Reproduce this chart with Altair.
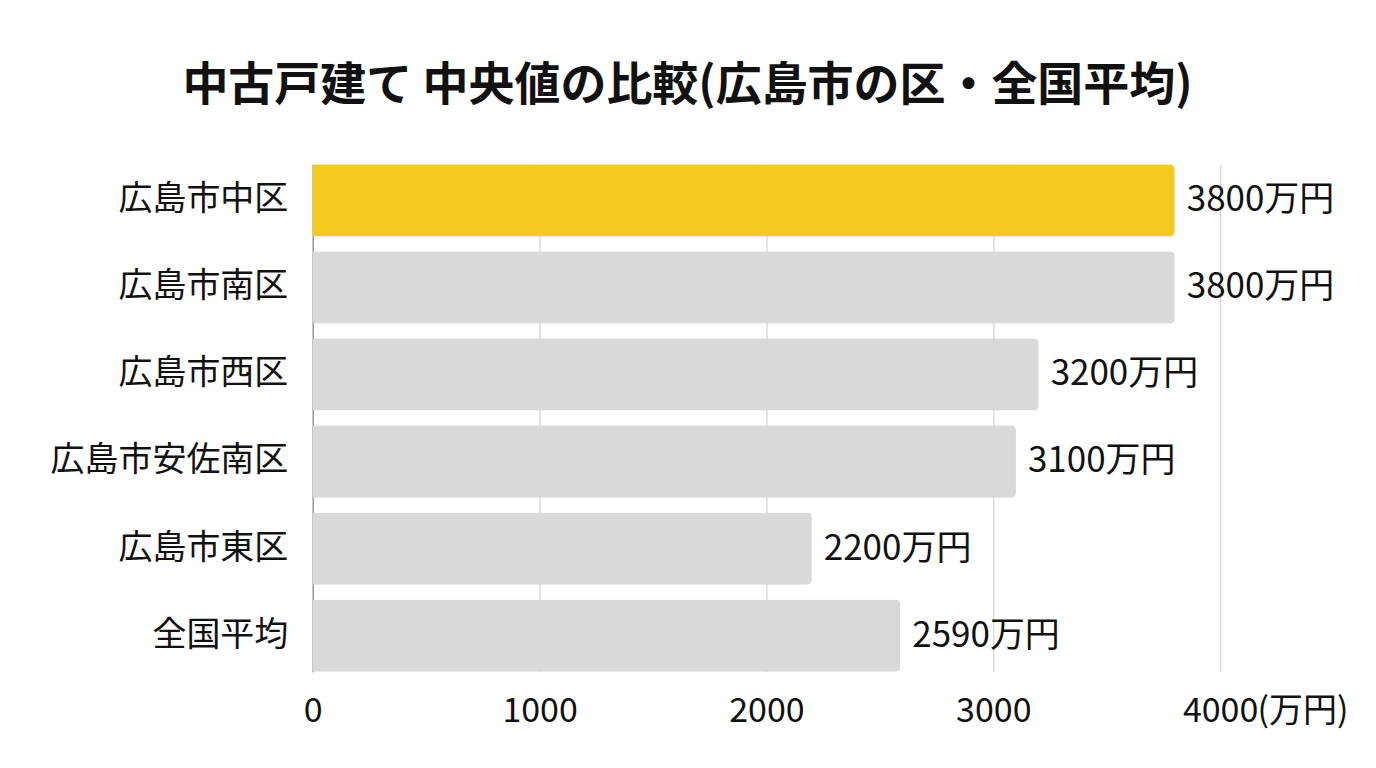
import altair as alt
import pandas as pd

# 中古戸建て 中央値（万円）
areas = ["広島市中区", "広島市南区", "広島市西区", "広島市安佐南区", "広島市東区", "全国平均"]
prices = [3800, 3800, 3200, 3100, 2200, 2590]
highlight = "広島市中区"
x_ticks = [0, 1000, 2000, 3000, 4000]

df = pd.DataFrame({"area": areas, "price": prices})
df["label"] = df["price"].astype(str) + "万円"

FONT = "Noto Sans CJK JP"
INK = "#111111"

base = alt.Chart(df).encode(
    y=alt.Y(
        "area:N",
        sort=areas,
        title=None,
        scale=alt.Scale(paddingInner=0.17, paddingOuter=0),
        axis=alt.Axis(
            labelFont=FONT, labelFontSize=34, labelColor=INK, labelPadding=25,
            labelLimit=0, ticks=False, tickSize=0, grid=False,
            domainColor="#9a9a9a", domainWidth=1.5,
            minExtent=305, maxExtent=305,
        ),
    )
)

bars = base.mark_bar(cornerRadiusEnd=5).encode(
    x=alt.X(
        "price:Q",
        scale=alt.Scale(domain=[0, 4000]),
        axis=alt.Axis(
            values=x_ticks, format="d",
            labelFont=FONT, labelFontSize=34, labelColor=INK, labelPadding=23,
            labelFlush=False,
            ticks=False, tickSize=0, domain=False,
            grid=True, gridColor="#dcdcdc", gridWidth=1.5,
            title="(万円)", titleFont=FONT, titleFontSize=34, titleFontWeight="normal",
            titleColor=INK, titleAlign="left", titleBaseline="top",
            titleX=945, titleY=23,
        ),
    ),
    color=alt.condition(
        alt.datum.area == highlight, alt.value("#F5C920"), alt.value("#D9D9D9")
    ),
)

text = base.mark_text(
    align="left", baseline="middle", dx=12, font=FONT, fontSize=35, color=INK
).encode(x="price:Q", text="label:N")

chart = (bars + text).properties(
    width=908,
    height=508,
    padding={"left": 0, "top": 55, "right": 20, "bottom": 10},
    title=alt.TitleParams(
        "中古戸建て 中央値の比較(広島市の区・全国平均)",
        font=FONT, fontSize=46, fontWeight="bold", color=INK,
        anchor="middle", dx=-79, offset=54,
    ),
).configure_view(stroke=None)

chart.save("out.html", embed_options={"renderer": "svg", "actions": False})
